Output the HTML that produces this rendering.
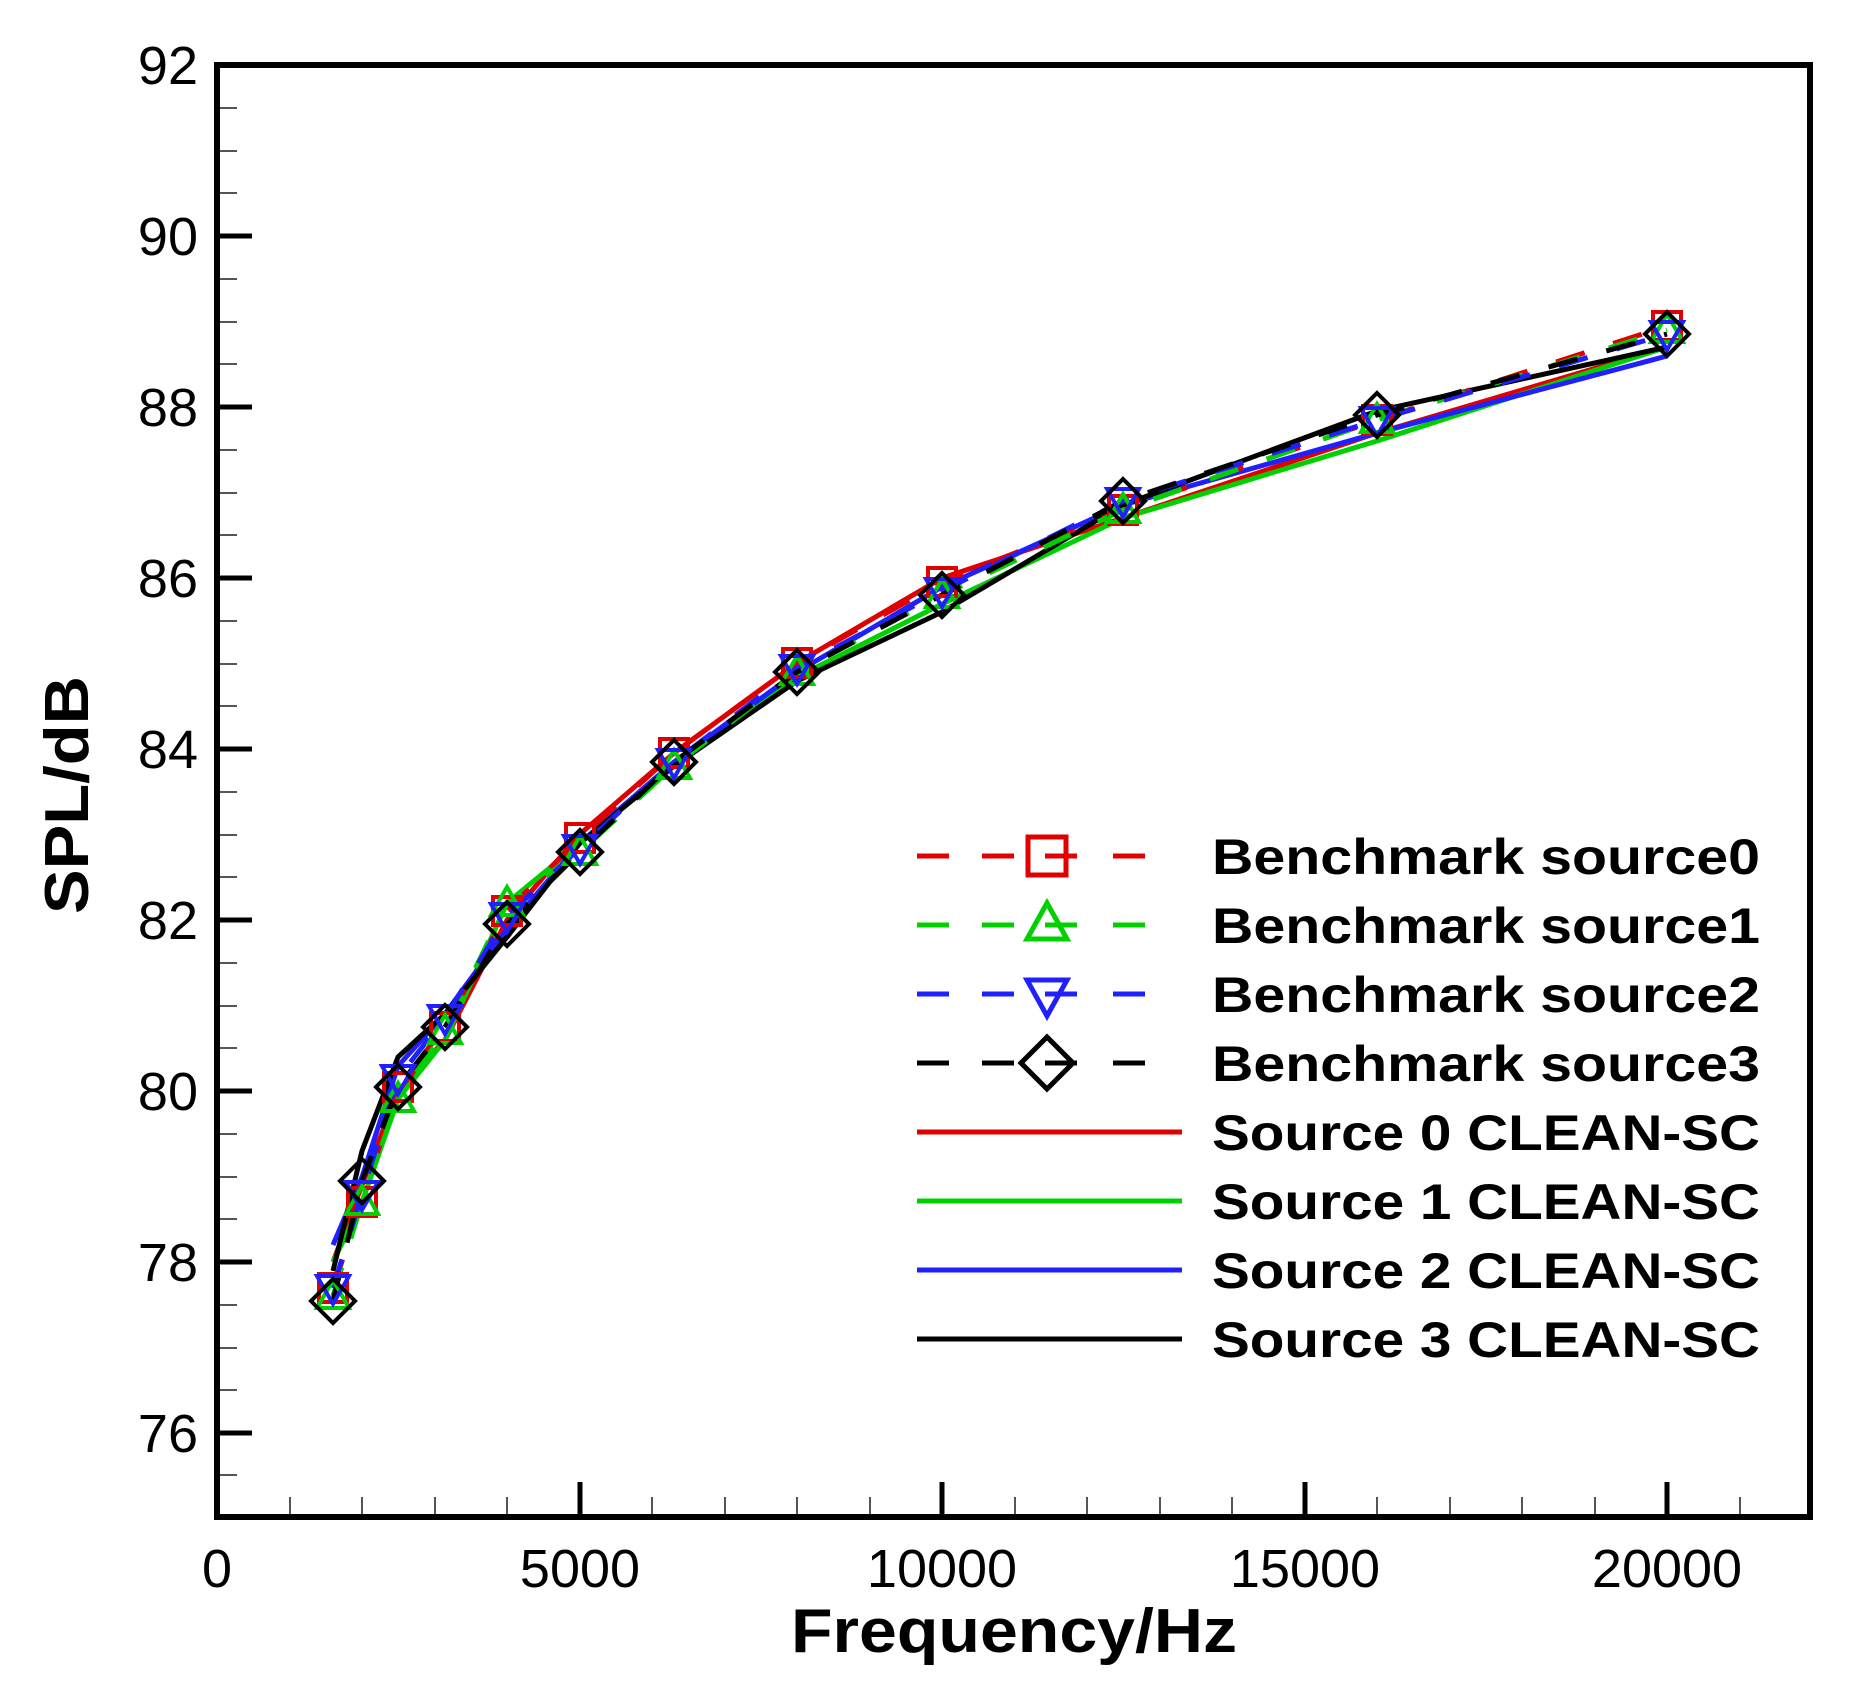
<!DOCTYPE html>
<html><head><meta charset="utf-8"><style>
html,body{margin:0;padding:0;background:#fff;}
svg{display:block;}
text{font-family:"Liberation Sans",Arial,sans-serif;}
</style></head><body>
<svg width="1859" height="1688" viewBox="0 0 1859 1688" xmlns="http://www.w3.org/2000/svg">
<rect width="1859" height="1688" fill="#fff"/>
<g stroke="#555" stroke-width="2">
<path d="M217 108h20M217 151h20M217 193h20M217 279h20M217 322h20M217 364h20M217 450h20M217 493h20M217 535h20M217 621h20M217 664h20M217 706h20M217 792h20M217 835h20M217 877h20M217 963h20M217 1006h20M217 1048h20M217 1134h20M217 1177h20M217 1219h20M217 1305h20M217 1348h20M217 1390h20M217 1475h20"/>
<path d="M290 1517v-20M362 1517v-20M435 1517v-20M507 1517v-20M652 1517v-20M725 1517v-20M797 1517v-20M870 1517v-20M1015 1517v-20M1087 1517v-20M1160 1517v-20M1232 1517v-20M1377 1517v-20M1450 1517v-20M1522 1517v-20M1595 1517v-20M1740 1517v-20"/>
</g>
<g stroke="#000" stroke-width="5">
<path d="M217 236h35M217 407h35M217 578h35M217 749h35M217 920h35M217 1091h35M217 1262h35M217 1433h35"/>
<path d="M580 1517v-35M942 1517v-35M1305 1517v-35M1667 1517v-35"/>
</g>
<rect x="217" y="65" width="1593" height="1452" fill="none" stroke="#000" stroke-width="6"/>
<g font-size="54" fill="#000" text-anchor="end">
<text x="198" y="84">92</text><text x="198" y="255">90</text><text x="198" y="426">88</text><text x="198" y="597">86</text><text x="198" y="768">84</text><text x="198" y="939">82</text><text x="198" y="1110">80</text><text x="198" y="1281">78</text><text x="198" y="1452">76</text>
</g>
<g font-size="54" fill="#000" text-anchor="middle">
<text x="217" y="1587">0</text><text x="580" y="1587">5000</text><text x="942" y="1587">10000</text><text x="1305" y="1587">15000</text><text x="1667" y="1587">20000</text>
</g>
<text x="791" y="1652" font-size="62" font-weight="bold" textLength="446" lengthAdjust="spacingAndGlyphs">Frequency/Hz</text>
<text transform="translate(88,914) rotate(-90)" font-size="62" font-weight="bold" textLength="238" lengthAdjust="spacingAndGlyphs">SPL/dB</text>

<g fill="none" stroke-width="5" stroke-linejoin="round">
<polyline stroke="#e00000" points="333,1262 362,1185 398,1091 445,1040 507,920 580,834 674,753 797,663 942,578 1123,518 1377,433 1667,347"/>
<polyline stroke="#00d000" points="333,1262 362,1202 398,1099 445,1040 507,903 580,843 674,766 797,677 942,604 1123,518 1377,441 1667,347"/>
<polyline stroke="#2020ff" points="333,1245 362,1177 398,1066 445,1014 507,929 580,843 674,762 797,672 942,587 1123,505 1377,433 1667,356"/>
<polyline stroke="#000" points="333,1271 362,1151 398,1057 445,1014 507,937 580,843 674,766 797,681 942,612 1123,505 1377,411 1667,347"/>
</g>
<g fill="none" stroke-width="5" stroke-dasharray="30 30">
<polyline stroke="#e00000" points="333,1288 362,1202 398,1087 445,1027 507,911 580,838 674,753 797,663 942,582 1123,510 1377,420 1667,326"/>
<polyline stroke="#00d000" points="333,1296 362,1202 398,1099 445,1031 507,903 580,852 674,766 797,672 942,595 1123,510 1377,420 1667,330"/>
<polyline stroke="#2020ff" points="333,1288 362,1194 398,1078 445,1018 507,916 580,848 674,762 797,668 942,591 1123,501 1377,420 1667,334"/>
<polyline stroke="#000" points="333,1301 362,1181 398,1087 445,1027 507,924 580,852 674,762 797,672 942,595 1123,501 1377,415 1667,334"/>
</g>
<g fill="none" stroke="#e00000" stroke-width="4">
<path d="M319 1274h28v28h-28zM348 1188h28v28h-28zM384 1073h28v28h-28zM431 1013h28v28h-28zM493 897h28v28h-28zM566 824h28v28h-28zM660 739h28v28h-28zM783 649h28v28h-28zM928 568h28v28h-28zM1109 496h28v28h-28zM1363 406h28v28h-28zM1653 312h28v28h-28z"/>
</g>
<g fill="none" stroke="#00d000" stroke-width="4">
<path d="M333 1280l16 28h-32zM362 1186l16 28h-32zM398 1083l16 28h-32zM445 1015l16 28h-32zM507 887l16 28h-32zM580 836l16 28h-32zM674 750l16 28h-32zM797 656l16 28h-32zM942 579l16 28h-32zM1123 494l16 28h-32zM1377 404l16 28h-32zM1667 314l16 28h-32z"/>
</g>
<g fill="none" stroke="#2020ff" stroke-width="4">
<path d="M333 1304l16 -28h-32zM362 1210l16 -28h-32zM398 1094l16 -28h-32zM445 1034l16 -28h-32zM507 932l16 -28h-32zM580 864l16 -28h-32zM674 778l16 -28h-32zM797 684l16 -28h-32zM942 607l16 -28h-32zM1123 517l16 -28h-32zM1377 436l16 -28h-32zM1667 350l16 -28h-32z"/>
</g>
<g fill="none" stroke="#000" stroke-width="4">
<path d="M333 1279l22 22l-22 22l-22 -22zM362 1159l22 22l-22 22l-22 -22zM398 1065l22 22l-22 22l-22 -22zM445 1005l22 22l-22 22l-22 -22zM507 902l22 22l-22 22l-22 -22zM580 830l22 22l-22 22l-22 -22zM674 740l22 22l-22 22l-22 -22zM797 650l22 22l-22 22l-22 -22zM942 573l22 22l-22 22l-22 -22zM1123 479l22 22l-22 22l-22 -22zM1377 393l22 22l-22 22l-22 -22zM1667 312l22 22l-22 22l-22 -22z"/>
</g>

<g stroke-width="5" fill="none">
<path stroke="#e00000" d="M917 856h32M982 856h32M1045 856h32M1113 856h32"/>
<path stroke="#e00000" d="M1028 837h38v38h-38z"/>
<path stroke="#00d000" d="M917 925h32M982 925h32M1045 925h32M1113 925h32"/>
<path stroke="#00d000" d="M1047 903l20 36h-40z"/>
<path stroke="#2020ff" d="M917 994h32M982 994h32M1045 994h32M1113 994h32"/>
<path stroke="#2020ff" d="M1047 1016l20 -36h-40z"/>
<path stroke="#000" d="M917 1063h32M982 1063h32M1045 1063h32M1113 1063h32"/>
<path stroke="#000" d="M1047 1037l26 26l-26 26l-26 -26z"/>
<path stroke="#e00000" d="M917 1132h265"/>
<path stroke="#00d000" d="M917 1201h265"/>
<path stroke="#2020ff" d="M917 1270h265"/>
<path stroke="#000" d="M917 1339h265"/>
</g>
<g font-size="50" font-weight="bold" fill="#000">
<text x="1212" y="874" textLength="548" lengthAdjust="spacingAndGlyphs">Benchmark source0</text>
<text x="1212" y="943" textLength="548" lengthAdjust="spacingAndGlyphs">Benchmark source1</text>
<text x="1212" y="1012" textLength="548" lengthAdjust="spacingAndGlyphs">Benchmark source2</text>
<text x="1212" y="1081" textLength="548" lengthAdjust="spacingAndGlyphs">Benchmark source3</text>
<text x="1212" y="1150" textLength="548" lengthAdjust="spacingAndGlyphs">Source 0 CLEAN-SC</text>
<text x="1212" y="1219" textLength="548" lengthAdjust="spacingAndGlyphs">Source 1 CLEAN-SC</text>
<text x="1212" y="1288" textLength="548" lengthAdjust="spacingAndGlyphs">Source 2 CLEAN-SC</text>
<text x="1212" y="1357" textLength="548" lengthAdjust="spacingAndGlyphs">Source 3 CLEAN-SC</text>
</g>
</svg>
</body></html>
